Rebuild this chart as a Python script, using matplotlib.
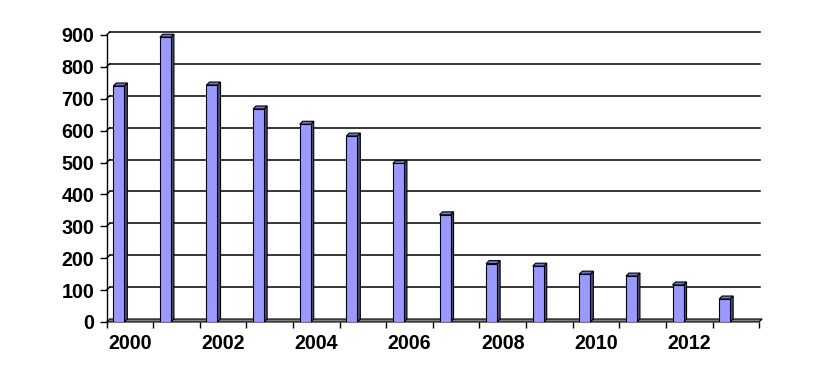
import numpy as np
import matplotlib
matplotlib.use("Agg")
import matplotlib.pyplot as plt
from matplotlib.patches import Polygon

# данные
years = list(range(2000, 2014))
values = [740, 893, 743, 668, 620, 583, 497, 336, 183, 175, 150, 144, 116, 72]
y_ticks = list(range(0, 1000, 100))

plt.rcParams['font.family'] = ['Liberation Sans', 'DejaVu Sans']

fig = plt.figure(figsize=(8.18, 3.81), dpi=100)
ax = fig.add_axes([0.1304, 0.1549, 0.928 - 0.1304, 0.7533])

n = len(years)
x = np.arange(n)
ax.set_xlim(-0.5, n - 0.5)
ax.set_ylim(0, 900)

# смещение "глубины" (псевдо-3D)
dx = 0.065
dy = 9.4

# линии сетки на задней стенке
for v in y_ticks[1:]:
    ax.plot([-0.5 + dx, n - 0.5 + dx * 0.4], [v + dy, v + dy], color='black', lw=1.1,
            clip_on=False, zorder=1)
    ax.plot([-0.5, -0.5 + dx], [v, v + dy], color='black', lw=1.0, clip_on=False, zorder=1)

# пол
floor = Polygon([(-0.5, 0), (n - 0.5, 0), (n - 0.5 + dx, dy), (-0.5 + dx, dy)],
                closed=True, facecolor='#808080', edgecolor='black', lw=0.8,
                clip_on=False, zorder=2)
ax.add_patch(floor)

# столбцы
left_off = -0.358
width = 0.236
ax.bar(x + left_off, values, width=width, align='edge', color='#9999FF',
       edgecolor='black', linewidth=0.8, zorder=4)
for xi, v in zip(x, values):
    l = xi + left_off
    r = l + width
    side = Polygon([(r, 0), (r, v), (r + dx, v + dy), (r + dx, dy)], closed=True,
                   facecolor='#4D4D85', edgecolor='black', lw=0.8, zorder=3, clip_on=False)
    top = Polygon([(l, v), (r, v), (r + dx, v + dy), (l + dx, v + dy)], closed=True,
                  facecolor='#7373CC', edgecolor='black', lw=0.8, zorder=3, clip_on=False)
    ax.add_patch(side)
    ax.add_patch(top)

# оси
for s in ['top', 'right', 'bottom']:
    ax.spines[s].set_visible(False)
ax.spines['left'].set_linewidth(1.0)
ax.spines['left'].set_zorder(5)

ax.set_yticks(y_ticks)
ax.tick_params(axis='y', length=5, width=1.0, pad=4, labelsize=14.2)
for lbl in ax.get_yticklabels():
    lbl.set_fontweight('bold')

ax.set_xticks(np.arange(-0.5, n, 1.0))
ax.set_xticklabels([])
ax.tick_params(axis='x', which='major', length=4, width=1.0, direction='out')
ax.set_xticks(x[::2], minor=True)
ax.set_xticklabels([str(y) for y in years[::2]], minor=True, fontsize=14.2,
                   fontweight='bold')
ax.tick_params(axis='x', which='minor', length=0, pad=9)

fig.savefig('out.png', dpi=100)
